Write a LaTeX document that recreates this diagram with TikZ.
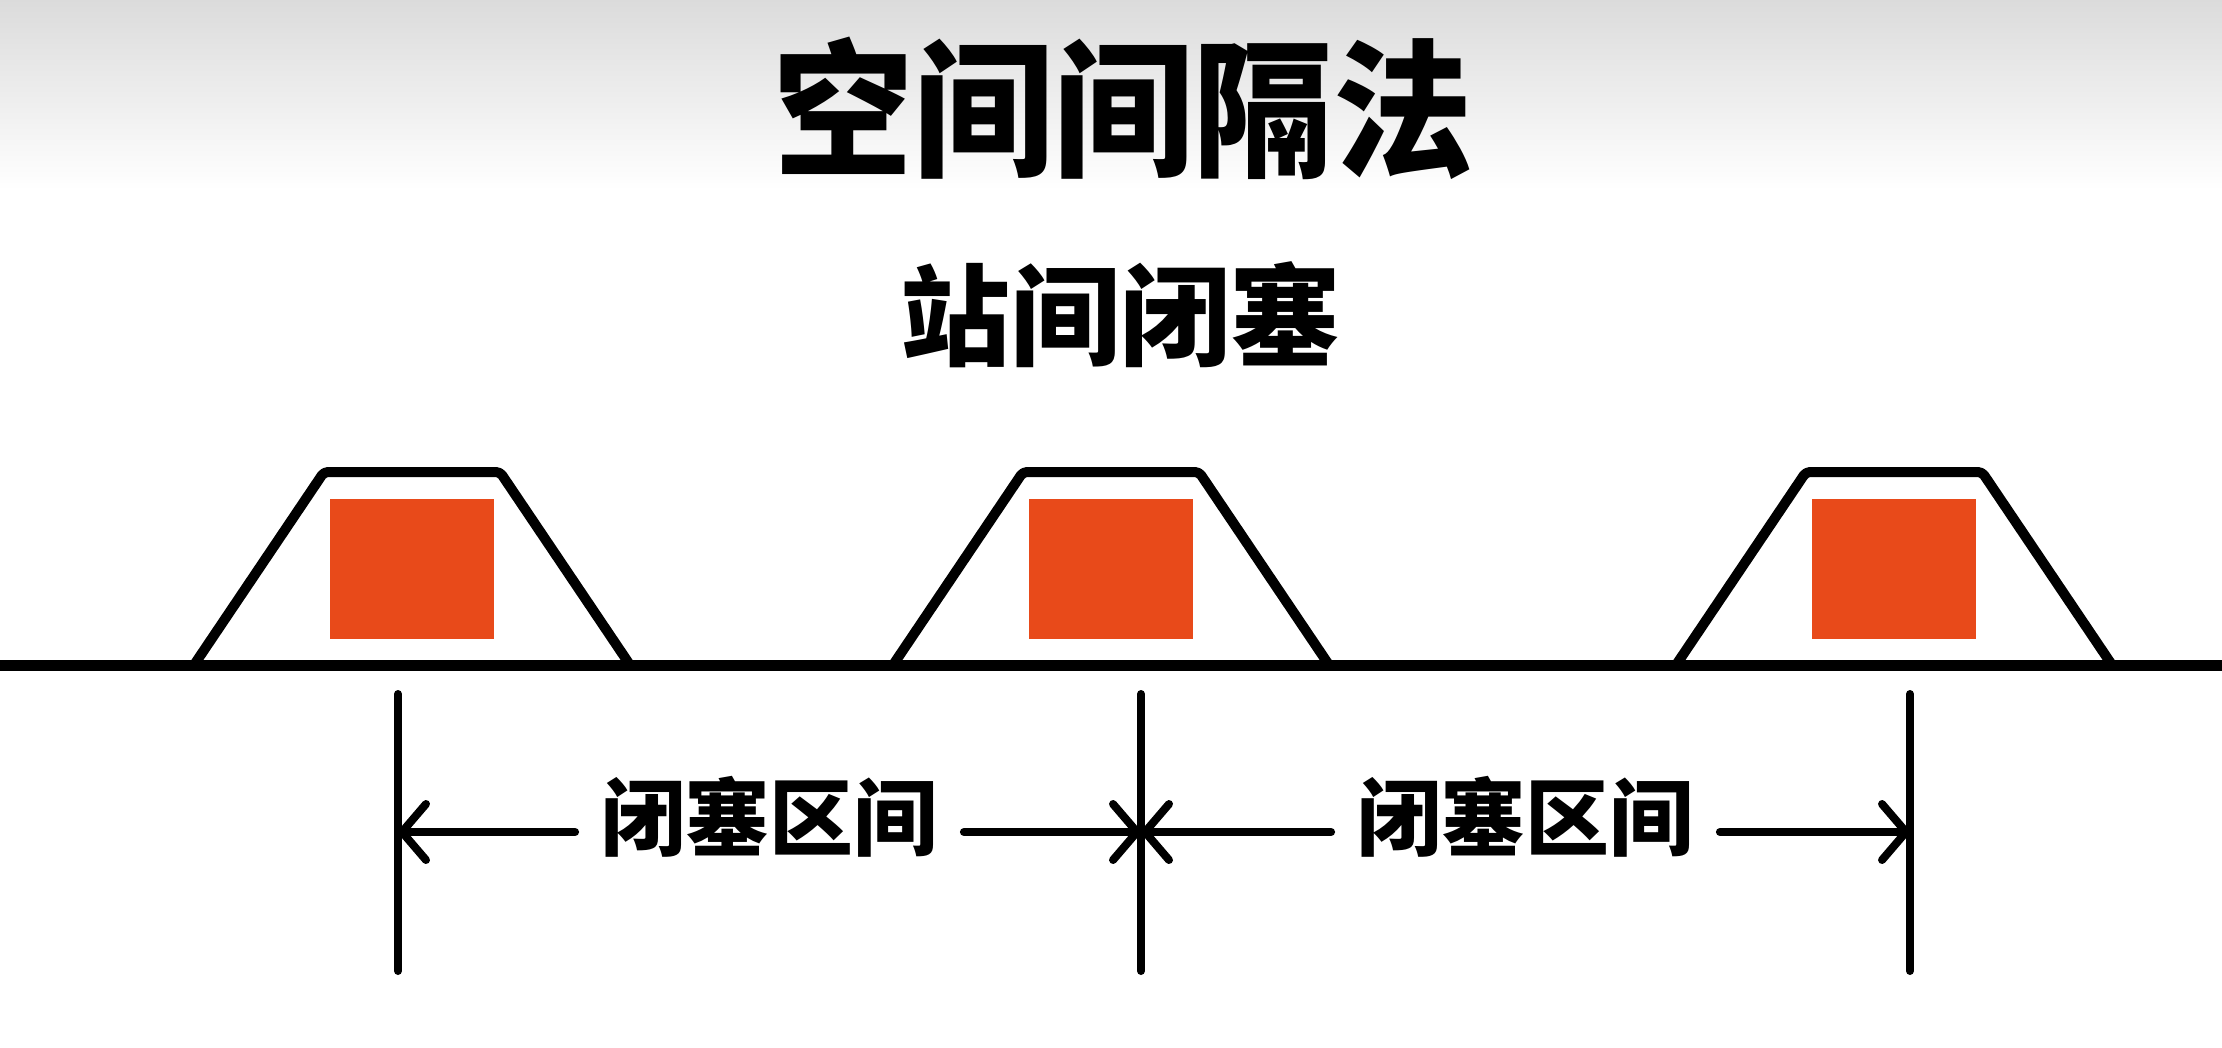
\documentclass[tikz,border=0pt]{standalone}
\usepackage{fontspec}
\newfontfamily\cjk{Noto Sans CJK SC}
\usetikzlibrary{positioning, arrows.meta}
\definecolor{signalred}{HTML}{E84A1A}

\begin{document}
\begin{tikzpicture}[x=0.5pt, y=-0.5pt,
    track/.style={line width=5.5pt},
    platform/.style={line width=5pt, line join=round, rounded corners=2pt},
    bound/.style={line width=4pt, line cap=round},
    dimarrow/.style={line width=4pt, line cap=round, -{Straight Barb[length=12pt, width=28pt, round]}},
    sectlabel/.style={font=\cjk\bfseries\fontsize{42pt}{42pt}\selectfont, inner xsep=13pt, inner ysep=0pt}]
  \useasboundingbox (0,0) rectangle (2222,1048);
  \fill[white] (0,0) rectangle (2222,1048);
  \shade[top color=black!14, bottom color=white] (0,0) rectangle (2222,190);

  \node[font=\cjk\bfseries\fontsize{70pt}{70pt}\selectfont, yscale=1.06] (title) at (1123,108) {空间间隔法};
  \node[font=\cjk\bfseries\fontsize{55pt}{55pt}\selectfont] (subtitle) at (1120,315) {站间闭塞};

  % stations
  \foreach \c in {412,1111,1894} {
    \fill[signalred] ({\c-82},499) rectangle ({\c+82},639);
    \draw[platform] ({\c-218},665) -- ({\c-88},472) -- ({\c+88},472) -- ({\c+218},665);
  }
  \draw[track] (0,665) -- (2222,665);

  % block boundaries
  \foreach \n/\x in {1/398, 2/1141, 3/1910} {
    \coordinate (top\n) at (\x,694);
    \coordinate (bot\n) at (\x,971);
    \draw[bound] (top\n) -- (bot\n);
  }

  \node[sectlabel] (sec1) at (769.5,817) {闭塞区间};
  \node[sectlabel] (sec2) at (1525.5,817) {闭塞区间};
  \draw[dimarrow] ([yshift=-7.5pt]sec1.west) -- ([yshift=-7.5pt]sec1.west -| top1);
  \draw[dimarrow] ([yshift=-7.5pt]sec1.east) -- ([yshift=-7.5pt]sec1.east -| top2);
  \draw[dimarrow] ([yshift=-7.5pt]sec2.west) -- ([yshift=-7.5pt]sec2.west -| top2);
  \draw[dimarrow] ([yshift=-7.5pt]sec2.east) -- ([yshift=-7.5pt]sec2.east -| top3);
\end{tikzpicture}
\end{document}
